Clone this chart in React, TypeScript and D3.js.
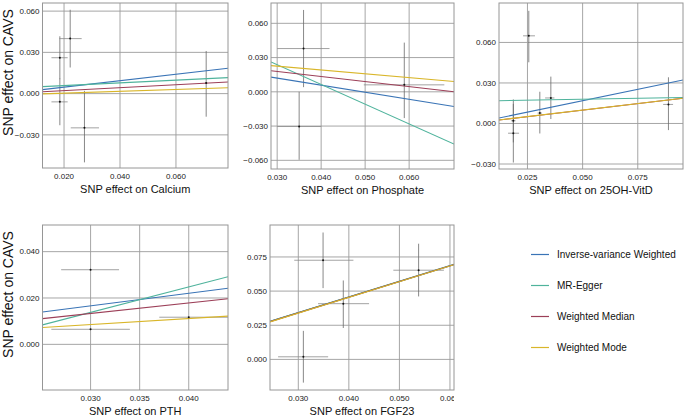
import React from "react";
import * as d3 from "d3";

// ---------- DATA ----------
const methods = ["Inverse-variance Weighted", "MR-Egger", "Weighted Median", "Weighted Mode"];
const exposures = ["Calcium", "Phosphate", "25OH-VitD", "PTH", "FGF23"];

// Calcium
const calciumBx = [0.0185, 0.0185, 0.0222, 0.0273, 0.0708];
const calciumBy = [0.0261, -0.006, 0.04, -0.0249, 0.0078];
const calciumBxLo = [0.0155, 0.0155, 0.0183, 0.0224, 0.0704];
const calciumBxHi = [0.0213, 0.0213, 0.0263, 0.0325, 0.0712];
const calciumByLo = [0.0105, -0.023, 0.019, -0.05, -0.0168];
const calciumByHi = [0.0417, 0.011, 0.061, 0.002, 0.031];
const calciumSlopes = [0.235, 0.098, 0.107, 0.067];
const calciumIntercepts = [0.0, 0.0039, 0.0, -0.001];
const calciumXDomain = [0.0123, 0.0786];
const calciumYDomain = [-0.0541, 0.0659];
const calciumXTicks = [0.02, 0.04, 0.06];
const calciumYTicks = [-0.03, 0.0, 0.03, 0.06];

// Phosphate
const phosphateBx = [0.036, 0.035, 0.0589];
const phosphateBy = [0.0379, -0.0304, 0.0061];
const phosphateBxLo = [0.03, 0.03, 0.0497];
const phosphateBxHi = [0.0419, 0.04, 0.068];
const phosphateByLo = [0.0041, -0.0595, -0.023];
const phosphateByHi = [0.0717, 0.0, 0.0431];
const phosphateSlopes = [-0.617, -1.727, -0.44, -0.334];
const phosphateIntercepts = [0.0305, 0.0755, 0.031, 0.0325];
const phosphateXDomain = [0.0286, 0.0702];
const phosphateYDomain = [-0.0676, 0.0778];
const phosphateXTicks = [0.03, 0.04, 0.05, 0.06];
const phosphateYTicks = [-0.06, -0.03, 0.0, 0.03, 0.06];

// 25OH-VitD
const vitdBx = [0.0256, 0.0356, 0.0306, 0.0186, 0.0186, 0.0889];
const vitdBy = [0.0649, 0.0189, 0.0077, 0.002, -0.0072, 0.0141];
const vitdBxLo = [0.023, 0.033, 0.0296, 0.0176, 0.0162, 0.0865];
const vitdBxHi = [0.0284, 0.0372, 0.0316, 0.0196, 0.0212, 0.091];
const vitdByLo = [0.0453, 0.0033, -0.0074, -0.014, -0.0289, -0.0049];
const vitdByHi = [0.0834, 0.0347, 0.0235, 0.0178, 0.0145, 0.0342];
const vitdSlopes = [0.337, 0.029, 0.194, 0.192];
const vitdIntercepts = [0.0, 0.0165, 0.0002, 0.0003];
const vitdXDomain = [0.0121, 0.0955];
const vitdYDomain = [-0.0337, 0.0892];
const vitdXTicks = [0.025, 0.05, 0.075];
const vitdYTicks = [-0.03, 0.0, 0.03, 0.06];

// PTH
const pthBx = [0.03, 0.03, 0.04];
const pthBy = [0.0322, 0.0065, 0.0117];
const pthBxLo = [0.027, 0.026, 0.037];
const pthBxHi = [0.0329, 0.034, 0.045];
const pthByLo = [0.0322, 0.0065, 0.0117];
const pthByHi = [0.0322, 0.0065, 0.0117];
const pthSlopes = [0.544, 1.1, 0.454, 0.259];
const pthIntercepts = [0.0003, -0.0192, -0.0003, 0.0008];
const pthXDomain = [0.0251, 0.044];
const pthYDomain = [-0.0197, 0.0515];
const pthXTicks = [0.03, 0.035, 0.04];
const pthYTicks = [0.0, 0.02, 0.04];

// FGF23
const fgfBx = [0.0349, 0.0389, 0.031, 0.0538];
const fgfBy = [0.0726, 0.0408, 0.0019, 0.0653];
const fgfBxLo = [0.0292, 0.0339, 0.026, 0.0488];
const fgfBxHi = [0.0409, 0.044, 0.0359, 0.0588];
const fgfByLo = [0.0522, 0.023, -0.017, 0.0461];
const fgfByHi = [0.0929, 0.0578, 0.0209, 0.0847];
const fgfSlopes = [1.14, 1.15, 1.15, 1.15];
const fgfIntercepts = [0.0, -0.0002, -0.0004, -0.0006];
const fgfXDomain = [0.0244, 0.0608];
const fgfYDomain = [-0.0224, 0.0984];
const fgfXTicks = [0.03, 0.04, 0.05, 0.06];
const fgfYTicks = [0.0, 0.025, 0.05, 0.075];

// ---------- STYLE / LAYOUT ----------
const methodColors = ["#3a74b6", "#4fb39c", "#9c3f58", "#d9b62a"];
const FONT = "'Liberation Sans', Arial, Helvetica, sans-serif";
const GRID = "#9c9c9c";
const BORDER = "#969696";

const panels = [
  { name: exposures[0], bx: calciumBx, by: calciumBy, bxLo: calciumBxLo, bxHi: calciumBxHi, byLo: calciumByLo, byHi: calciumByHi, slopes: calciumSlopes, ints: calciumIntercepts, xd: calciumXDomain, yd: calciumYDomain, xt: calciumXTicks, yt: calciumYTicks, fmt: ".3f", box: [42.5, 3, 228, 168], ytitle: true },
  { name: exposures[1], bx: phosphateBx, by: phosphateBy, bxLo: phosphateBxLo, bxHi: phosphateBxHi, byLo: phosphateByLo, byHi: phosphateByHi, slopes: phosphateSlopes, ints: phosphateIntercepts, xd: phosphateXDomain, yd: phosphateYDomain, xt: phosphateXTicks, yt: phosphateYTicks, fmt: ".3f", box: [271, 3, 454, 169], ytitle: false },
  { name: exposures[2], bx: vitdBx, by: vitdBy, bxLo: vitdBxLo, bxHi: vitdBxHi, byLo: vitdByLo, byHi: vitdByHi, slopes: vitdSlopes, ints: vitdIntercepts, xd: vitdXDomain, yd: vitdYDomain, xt: vitdXTicks, yt: vitdYTicks, fmt: ".3f", box: [499, 3, 683, 169], ytitle: false },
  { name: exposures[3], bx: pthBx, by: pthBy, bxLo: pthBxLo, bxHi: pthBxHi, byLo: pthByLo, byHi: pthByHi, slopes: pthSlopes, ints: pthIntercepts, xd: pthXDomain, yd: pthYDomain, xt: pthXTicks, yt: pthYTicks, fmt: ".3f", box: [42.5, 225, 228, 390], ytitle: true },
  { name: exposures[4], bx: fgfBx, by: fgfBy, bxLo: fgfBxLo, bxHi: fgfBxHi, byLo: fgfByLo, byHi: fgfByHi, slopes: fgfSlopes, ints: fgfIntercepts, xd: fgfXDomain, yd: fgfYDomain, xt: fgfXTicks, yt: fgfYTicks, fmt: ".3f", box: [270, 225, 454, 390], ytitle: false },
];

function Panel({ p, idx }: { p: any; idx: number }) {
  const [x0, y0, x1, y1] = p.box;
  const xs = d3.scaleLinear().domain(p.xd).range([x0, x1]);
  const ys = d3.scaleLinear().domain(p.yd).range([y1, y0]);
  const f = d3.format(p.fmt);
  const clipId = `clip${idx}`;
  const lblClip = `lclip${idx}`;
  const line = d3.line<[number, number]>().x((d) => xs(d[0])).y((d) => ys(d[1]));
  return (
    <g>
      <defs>
        <clipPath id={clipId}>
          <rect x={x0} y={y0} width={x1 - x0} height={y1 - y0} />
        </clipPath>
        <clipPath id={lblClip}>
          <rect x={x0 - 40} y={y1} width={x1 - x0 + 40} height={20} />
        </clipPath>
      </defs>
      <rect x={x0} y={y0} width={x1 - x0} height={y1 - y0} fill="#ffffff" />
      {p.xt.map((t: number, i: number) => (
        <line key={"gx" + i} x1={xs(t)} x2={xs(t)} y1={y0} y2={y1} stroke={GRID} strokeWidth={0.9} />
      ))}
      {p.yt.map((t: number, i: number) => (
        <line key={"gy" + i} x1={x0} x2={x1} y1={ys(t)} y2={ys(t)} stroke={GRID} strokeWidth={0.9} />
      ))}
      <g clipPath={`url(#${clipId})`}>
        {p.bx.map((bx: number, i: number) => (
          <g key={"e" + i}>
            <line x1={xs(bx)} x2={xs(bx)} y1={ys(p.byLo[i])} y2={ys(p.byHi[i])} stroke="#6a6a6a" strokeWidth={0.8} />
            <line x1={xs(p.bxLo[i])} x2={xs(p.bxHi[i])} y1={ys(p.by[i])} y2={ys(p.by[i])} stroke="#8a8a8a" strokeWidth={0.8} />
          </g>
        ))}
        {p.slopes.map((s: number, m: number) => (
          <path
            key={"l" + m}
            d={line([
              [p.xd[0], p.ints[m] + s * p.xd[0]],
              [p.xd[1], p.ints[m] + s * p.xd[1]],
            ]) as string}
            stroke={methodColors[m]}
            strokeWidth={1.1}
            fill="none"
          />
        ))}
        {p.bx.map((bx: number, i: number) => (
          <circle key={"p" + i} cx={xs(bx)} cy={ys(p.by[i])} r={1} fill="#111" />
        ))}
      </g>
      <rect x={x0} y={y0} width={x1 - x0} height={y1 - y0} fill="none" stroke={BORDER} strokeWidth={1} />
      {p.yt.map((t: number, i: number) => (
        <text key={"ty" + i} x={x0 - 3} y={ys(t)} dy="0.35em" textAnchor="end" fontSize={8} fill="#222" fontFamily={FONT}>
          {f(t)}
        </text>
      ))}
      <g clipPath={`url(#${lblClip})`}>
        {p.xt.map((t: number, i: number) => (
          <text key={"tx" + i} x={xs(t)} y={y1 + 10.5} textAnchor="middle" fontSize={8} fill="#222" fontFamily={FONT}>
            {f(t)}
          </text>
        ))}
      </g>
      <text x={(x0 + x1) / 2} y={y1 + 25} textAnchor="middle" fontSize={11} fill="#111" fontFamily={FONT}>
        {"SNP effect on " + p.name}
      </text>
      {p.ytitle && (
        <text
          transform={`translate(8,${y0 + (y1 - y0) / 2 - 13}) rotate(-90)`}
          textAnchor="middle"
          dy="0.35em"
          fontSize={14}
          fill="#111"
          fontFamily={FONT}
        >
          SNP effect on CAVS
        </text>
      )}
    </g>
  );
}

export default function App() {
  const legendX = 531;
  const legendY0 = 254.5;
  const legendStep = 31;
  return (
    <svg width={685} height={418} style={{ position: "absolute", left: 0, top: 0, background: "#fff" }}>
      <rect width={685} height={418} fill="#fff" />
      {panels.map((p, i) => (
        <Panel key={i} p={p} idx={i} />
      ))}
      {methods.map((m, i) => (
        <g key={m}>
          <line x1={legendX} x2={legendX + 18} y1={legendY0 + i * legendStep} y2={legendY0 + i * legendStep} stroke={methodColors[i]} strokeWidth={1.2} />
          <text x={legendX + 26} y={legendY0 + i * legendStep} dy="0.35em" fontSize={10} fill="#111" fontFamily={FONT}>
            {m}
          </text>
        </g>
      ))}
    </svg>
  );
}
